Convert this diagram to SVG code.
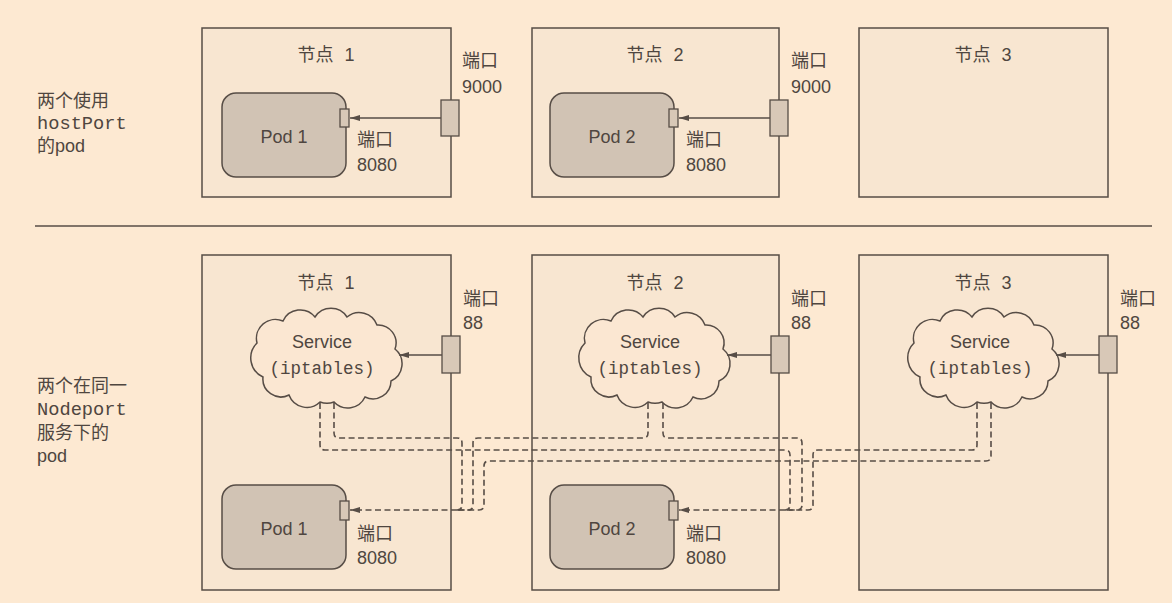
<svg xmlns="http://www.w3.org/2000/svg" xmlns:xlink="http://www.w3.org/1999/xlink" width="1172" height="603" viewBox="0 0 1172 603">
<style>
.bg{fill:#fde9d2}
.node{fill:#f8e6d1;stroke:#574d46;stroke-width:1.5}
.pod{fill:#d1c3b4;stroke:#574d46;stroke-width:1.5}
.port{fill:#d8c8b7;stroke:#574d46;stroke-width:1.3}
.cloud{fill:#fbe7d2;stroke:#574d46;stroke-width:1.5}
.t{font-family:"Liberation Sans","Noto Sans CJK SC",sans-serif;font-size:18px;fill:#4f4640}
.m{font-family:"Liberation Mono","Noto Sans CJK SC",monospace;font-size:17.5px;fill:#4f4640}
.ml{font-size:18.7px}
.mid{text-anchor:middle}
.solid{fill:none;stroke:#574d46;stroke-width:1.5}
.dash{fill:none;stroke:#574d46;stroke-width:1.6;stroke-dasharray:6 3.5}
.div{stroke:#574d46;stroke-width:1.3}
</style>
<defs>
<marker id="ah" viewBox="0 0 10 8" refX="10" refY="4" markerWidth="10" markerHeight="8" markerUnits="userSpaceOnUse" orient="auto">
<path d="M0,1 L10,4 L0,7 z" fill="#574d46"/>
</marker>
<path id="cloudshape" d="M7,47 A20,20 0 0 1 -7,47 A19,19 0 0 1 -38,40 A18,18 0 0 1 -64,22 A21,21 0 0 1 -70,-12 A19,19 0 0 1 -44,-34 A19,19 0 0 1 -12,-38 A19,19 0 0 1 20,-38 A19,19 0 0 1 50,-30 A18,18 0 0 1 68,-6 A19,19 0 0 1 64,26 A18,18 0 0 1 38,42 A19,19 0 0 1 7,47 Z"/>
</defs>
<rect class="bg" x="0" y="0" width="1172" height="603"/>

<g id="label-top">
<text class="t" x="37" y="107">两个使用</text>
<text class="m ml" x="37" y="129">hostPort</text>
<text class="t" x="37" y="152">的pod</text>
</g>
<g id="label-bottom">
<text class="t" x="37" y="392">两个在同一</text>
<text class="m ml" x="37" y="415">Nodeport</text>
<text class="t" x="37" y="439">服务下的</text>
<text class="t" x="37" y="462">pod</text>
</g>

<line id="divider" class="div" x1="35" y1="226" x2="1152" y2="226"/>

<!-- top row -->
<g id="top-node1">
<rect class="node" x="202" y="28" width="249" height="169"/>
<text class="t mid" x="326" y="61">节点 <tspan dx="6">1</tspan></text>
<rect class="pod" x="222" y="93" width="124" height="84" rx="14"/>
<text class="t mid" x="284" y="143">Pod 1</text>
<rect class="port" x="340" y="109" width="9" height="18"/>
<rect class="port" x="441" y="100" width="18" height="36"/>
<text class="t" x="462" y="67">端口</text>
<text class="t" x="462" y="93">9000</text>
<text class="t" x="357" y="146">端口</text>
<text class="t" x="357" y="171">8080</text>
</g>
<g id="top-node2">
<rect class="node" x="532" y="28" width="247" height="169"/>
<text class="t mid" x="655" y="61">节点 <tspan dx="6">2</tspan></text>
<rect class="pod" x="550" y="93" width="124" height="84" rx="14"/>
<text class="t mid" x="612" y="143">Pod 2</text>
<rect class="port" x="669" y="109" width="9" height="18"/>
<rect class="port" x="770" y="100" width="18" height="36"/>
<text class="t" x="791" y="67">端口</text>
<text class="t" x="791" y="93">9000</text>
<text class="t" x="686" y="146">端口</text>
<text class="t" x="686" y="171">8080</text>
</g>
<g id="top-node3">
<rect class="node" x="859" y="28" width="249" height="169"/>
<text class="t mid" x="983" y="61">节点 <tspan dx="6">3</tspan></text>
</g>

<!-- bottom row -->
<g id="bottom-node1">
<rect class="node" x="202" y="255" width="249" height="335"/>
<text class="t mid" x="326" y="289">节点 <tspan dx="6">1</tspan></text>
<use href="#cloudshape" class="cloud" x="327" y="355"/>
<text class="t mid" x="322" y="348">Service</text>
<text class="m mid" x="322" y="374">(iptables)</text>
<rect class="port" x="442" y="336" width="18" height="37"/>
<text class="t" x="463" y="305">端口</text>
<text class="t" x="463" y="329">88</text>
<rect class="pod" x="222" y="485" width="124" height="84" rx="14"/>
<text class="t mid" x="284" y="535">Pod 1</text>
<rect class="port" x="340" y="501" width="9" height="19"/>
<text class="t" x="357" y="540">端口</text>
<text class="t" x="357" y="564">8080</text>
</g>
<g id="bottom-node2">
<rect class="node" x="532" y="255" width="247" height="335"/>
<text class="t mid" x="655" y="289">节点 <tspan dx="6">2</tspan></text>
<use href="#cloudshape" class="cloud" x="655" y="355"/>
<text class="t mid" x="650" y="348">Service</text>
<text class="m mid" x="650" y="374">(iptables)</text>
<rect class="port" x="771" y="336" width="18" height="37"/>
<text class="t" x="791" y="305">端口</text>
<text class="t" x="791" y="329">88</text>
<rect class="pod" x="550" y="485" width="124" height="84" rx="14"/>
<text class="t mid" x="612" y="535">Pod 2</text>
<rect class="port" x="669" y="501" width="9" height="19"/>
<text class="t" x="686" y="540">端口</text>
<text class="t" x="686" y="564">8080</text>
</g>
<g id="bottom-node3">
<rect class="node" x="859" y="255" width="249" height="335"/>
<text class="t mid" x="983" y="289">节点 <tspan dx="6">3</tspan></text>
<use href="#cloudshape" class="cloud" x="984" y="355"/>
<text class="t mid" x="980" y="348">Service</text>
<text class="m mid" x="980" y="374">(iptables)</text>
<rect class="port" x="1099" y="336" width="18" height="37"/>
<text class="t" x="1120" y="305">端口</text>
<text class="t" x="1120" y="329">88</text>
</g>

<g id="connectors">
<path class="solid" d="M441,118 H350" marker-end="url(#ah)"/>
<path class="solid" d="M770,118 H679" marker-end="url(#ah)"/>
<path class="solid" d="M442,355 H399" marker-end="url(#ah)"/>
<path class="solid" d="M771,355 H727" marker-end="url(#ah)"/>
<path class="solid" d="M1099,355 H1056" marker-end="url(#ah)"/>
<!-- to pod 1 -->
<path class="dash" d="M334,403 V433 Q334,438 339,438 H457 Q462,438 462,443 V505 Q462,510 457,510"/>
<path class="dash" d="M648,403 V433 Q648,438 643,438 H478 Q473,438 473,443 V505 Q473,510 468,510 H457"/>
<path class="dash" d="M991,403 V456 Q991,461 986,461 H489 Q484,461 484,466 V505 Q484,510 479,510 H457"/>
<path class="dash" d="M457,510 H350" marker-end="url(#ah)"/>
<!-- to pod 2 -->
<path class="dash" d="M320,403 V445 Q320,450 325,450 H785 Q790,450 790,455 V505 Q790,510 785,510"/>
<path class="dash" d="M663,403 V433 Q663,438 668,438 H797 Q802,438 802,443 V505 Q802,510 797,510 H785"/>
<path class="dash" d="M977,403 V445 Q977,450 972,450 H818 Q813,450 813,455 V505 Q813,510 808,510 H785"/>
<path class="dash" d="M785,510 H679" marker-end="url(#ah)"/>
</g>
</svg>
